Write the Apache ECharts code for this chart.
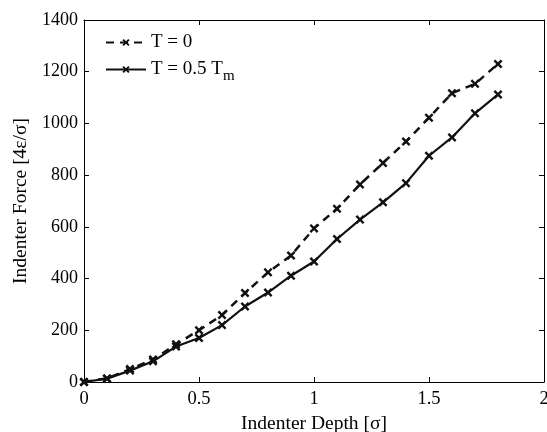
<!DOCTYPE html>
<html><head><meta charset="utf-8">
<script src="https://cdn.jsdelivr.net/npm/echarts@6/dist/echarts.min.js"></script>
<style>html,body{margin:0;padding:0;background:#fff}#c{width:547px;height:432px}</style>
</head><body><div id="c"></div>
<script>
const depth = [0,0.1,0.2,0.3,0.4,0.5,0.6,0.7,0.8,0.9,1.0,1.1,1.2,1.3,1.4,1.5,1.6,1.7,1.8];
const forceT0 = [0,14,50,87,146,200,259,344,424,489,594,670,764,847,930,1022,1117,1153,1230];
const forceT05 = [0,13,44,80,137,170,220,292,346,411,466,553,628,695,769,875,946,1039,1112];
const xTicks = [0,0.5,1,1.5,2];
const yTicks = [0,200,400,600,800,1000,1200,1400];
const seriesNames = ['T = 0','T = 0.5 Tm'];

const font = 'Liberation Serif';
const xMark = 'path://M0,1.9 L1.9,0 L5,3.1 L8.1,0 L10,1.9 L6.9,5 L10,8.1 L8.1,10 L5,6.9 L1.9,10 L0,8.1 L3.1,5 Z';
const chart = echarts.init(document.getElementById('c'));
const axisCommon = {
  axisLine:{show:true,onZero:false,lineStyle:{color:'#000',width:1}},
  axisTick:{show:true,inside:true,length:5,lineStyle:{color:'#000'}},
  splitLine:{show:false}
};
chart.setOption({
  backgroundColor:'#fff',
  animation:false,
  grid:{left:84,right:3,top:20,bottom:50,containLabel:false,outerBoundsMode:'none'},
  legend:{
    left:100, top:28, orient:'vertical', itemWidth:40, itemHeight:9, itemGap:8,
    data:seriesNames,
    formatter: n => n === 'T = 0' ? 'T = 0' : 'T = 0.5 T{sub|m}',
    textStyle:{fontFamily:font,fontSize:19,color:'#000',
      rich:{sub:{fontFamily:font,fontSize:15,color:'#000',verticalAlign:'bottom',padding:[14,0,0,0]}}}
  },
  xAxis:[
    Object.assign({type:'value',min:xTicks[0],max:xTicks[xTicks.length-1],interval:0.5,
      name:'Indenter Depth [σ]',nameLocation:'middle',nameGap:21,
      nameTextStyle:{fontFamily:font,fontSize:19.5,color:'#000'},
      axisLabel:{fontFamily:font,fontSize:18.5,color:'#000',margin:8}},axisCommon),
    Object.assign({type:'value',position:'top',min:0,max:2,interval:0.5,axisLabel:{show:false}},axisCommon)
  ],
  yAxis:[
    Object.assign({type:'value',min:yTicks[0],max:yTicks[yTicks.length-1],interval:200,
      name:'Indenter Force [4ε/σ]',nameLocation:'middle',nameGap:48,
      nameTextStyle:{fontFamily:font,fontSize:19.5,color:'#000'},
      axisLabel:{fontFamily:font,fontSize:18,color:'#000',margin:6,formatter:v=>String(v)}},axisCommon),
    Object.assign({type:'value',position:'right',min:0,max:1400,interval:200,axisLabel:{show:false}},axisCommon)
  ],
  series:[
    {name:seriesNames[0],type:'line',data:depth.map((d,i)=>[d,forceT0[i]]),
      symbol:xMark,symbolSize:9,showAllSymbol:true,clip:false,
      lineStyle:{color:'#111',width:2.5,type:[8,6]},itemStyle:{color:'#111'}},
    {name:seriesNames[1],type:'line',data:depth.map((d,i)=>[d,forceT05[i]]),
      symbol:xMark,symbolSize:9,showAllSymbol:true,clip:false,
      lineStyle:{color:'#111',width:2.2},itemStyle:{color:'#111'}}
  ]
});
</script></body></html>
